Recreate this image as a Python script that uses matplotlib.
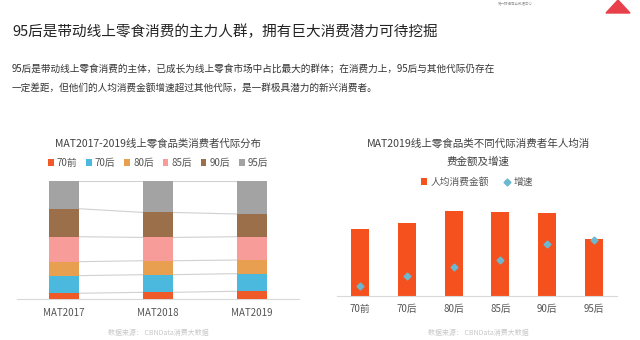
import matplotlib
matplotlib.use('Agg')
import matplotlib.pyplot as plt
from matplotlib.patches import Polygon
import numpy as np

plt.rcParams['font.family'] = ['Noto Sans CJK SC', 'DejaVu Sans']

# left chart: share of consumers by generation (fraction of total)
years = ['MAT2017', 'MAT2018', 'MAT2019']
gens = ['70前', '70后', '80后', '85后', '90后', '95后']
share_70q = [0.051, 0.059, 0.068]
share_70h = [0.149, 0.149, 0.149]
share_80h = [0.118, 0.118, 0.115]
share_85h = [0.211, 0.197, 0.197]
share_90h = [0.237, 0.211, 0.192]
share_95h = [0.234, 0.266, 0.279]
gen_colors = ['#F05A28', '#4BB8DD', '#E8A050', '#F79C98', '#9A6F4A', '#A3A3A3']

# right chart: spend per head and growth (relative units)
spend = [66.7, 72.7, 85.0, 83.7, 83.0, 56.3]
growth = [10.0, 20.0, 28.7, 36.0, 51.3, 55.7]

W, H = 640, 340
fig = plt.figure(figsize=(6.4, 3.4), dpi=100)
fig.patch.set_facecolor('white')

def fx(px):
    return px / W

def fy(py):
    return 1 - py / H

# header
fig.text(fx(12), fy(32), '95后是带动线上零食消费的主力人群，拥有巨大消费潜力可待挖掘',
         fontsize=10.5, color='#222222', va='center')
fig.text(fx(12), fy(70), '95后是带动线上零食消费的主体，已成长为线上零食市场中占比最大的群体；在消费力上，95后与其他代际仍存在',
         fontsize=6.95, color='#333333', va='center')
fig.text(fx(12), fy(88), '一定差距，但他们的人均消费金额增速超过其他代际，是一群极具潜力的新兴消费者。',
         fontsize=6.95, color='#333333', va='center')
fig.text(fx(515), fy(4), '第一财经商业数据中心', fontsize=2.5, color='#999999', ha='center', va='center')
fig.patches.append(Polygon([[fx(606), fy(13)], [fx(618), fy(0)], [fx(630), fy(13)]],
                           closed=True, transform=fig.transFigure, color='#E8404A'))

# left chart
ax1 = fig.add_axes([fx(17), fy(299.3), fx(299) - fx(17), fy(181) - fy(299.3)])
x = np.arange(len(years))
series = [share_70q, share_70h, share_80h, share_85h, share_90h, share_95h]
bw = 0.31
bottom = np.zeros(len(years))
for vals, c, g in zip(series, gen_colors, gens):
    vals = np.array(vals)
    ax1.bar(x, vals, bw, bottom=bottom, color=c, label=g, zorder=3)
    top = bottom + vals
    for i in range(len(years) - 1):
        ax1.plot([x[i] + bw / 2, x[i + 1] - bw / 2], [top[i], top[i + 1]],
                 color='#D0D0D0', lw=0.8, zorder=2)
    bottom = top
ax1.set_xlim(-0.5, 2.5)
ax1.set_ylim(0, 1)
ax1.set_xticks(x)
ax1.set_xticklabels(years, fontsize=7, color='#555555')
ax1.tick_params(length=0, pad=6)
ax1.set_yticks([])
for s in ['top', 'right', 'left']:
    ax1.spines[s].set_visible(False)
ax1.spines['bottom'].set_color('#D9D9D9')
ax1.legend(loc='center', bbox_to_anchor=(0.5, (299.3 - 163) / 118.3), ncol=6,
           frameon=False, fontsize=7, handlelength=0.6, handleheight=0.6,
           handletextpad=0.3, columnspacing=0.9, labelcolor='#555555')
fig.text(fx(158), fy(143), 'MAT2017-2019线上零食品类消费者代际分布', fontsize=7.5,
         color='#404040', ha='center', va='center')
fig.text(fx(158), fy(333), '数据来源： CBNData消费大数据', fontsize=5, color='#C8C8C8',
         ha='center', va='center')

# right chart
ax2 = fig.add_axes([fx(336.6), fy(295.7), fx(617.4) - fx(336.6), fy(195.7) - fy(295.7)])
x2 = np.arange(len(gens))
bars = ax2.bar(x2, spend, 0.385, color='#F4511E', label='人均消费金额', zorder=2)
pts, = ax2.plot(x2, growth, 'D', color='#6BB8D0', markersize=3.5, label='增速', zorder=3)
ax2.set_xlim(-0.5, 5.5)
ax2.set_ylim(0, 100)
ax2.set_xticks(x2)
ax2.set_xticklabels(gens, fontsize=7, color='#555555')
ax2.tick_params(length=0, pad=6)
ax2.set_yticks([])
for s in ['top', 'right', 'left']:
    ax2.spines[s].set_visible(False)
ax2.spines['bottom'].set_color('#D9D9D9')
ax2.legend([bars, pts], ['人均消费金额', '增速'], loc='center',
           bbox_to_anchor=(0.5, (295.7 - 182) / 100), ncol=2,
           frameon=False, fontsize=7, handlelength=0.6, handleheight=0.6,
           handletextpad=0.4, columnspacing=1.5, labelcolor='#555555')
fig.text(fx(478), fy(143), 'MAT2019线上零食品类不同代际消费者年人均消', fontsize=7.6,
         color='#404040', ha='center', va='center')
fig.text(fx(478), fy(162), '费金额及增速', fontsize=7.6, color='#404040', ha='center', va='center')
fig.text(fx(478), fy(333), '数据来源： CBNData消费大数据', fontsize=5, color='#C8C8C8',
         ha='center', va='center')

fig.savefig('out.png', dpi=100)
